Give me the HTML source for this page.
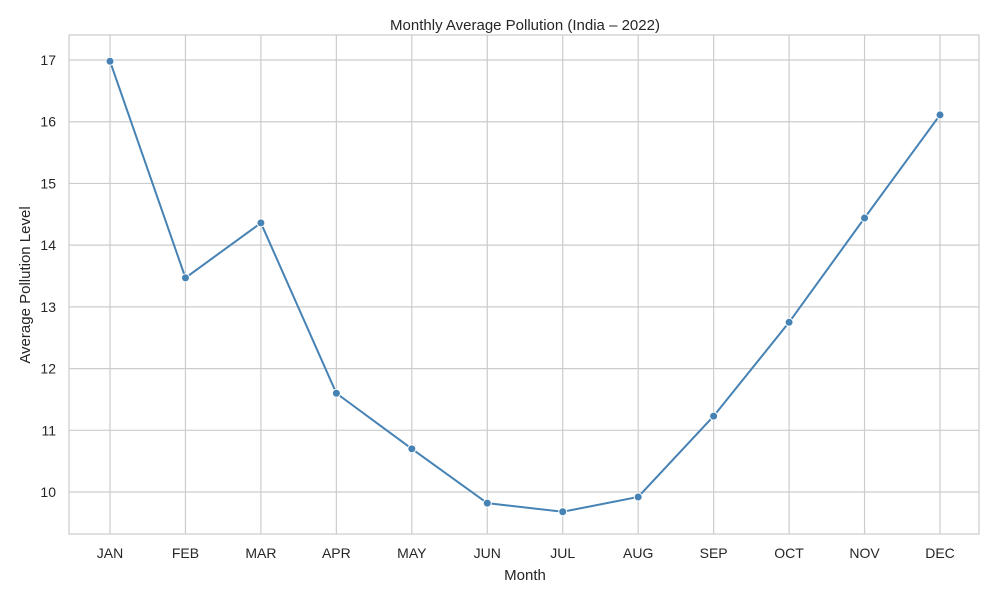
<!DOCTYPE html>
<html><head><meta charset="utf-8"><style>
body{margin:0;background:#fff;font-family:"Liberation Sans","DejaVu Sans",sans-serif;}
svg text{font-family:"Liberation Sans","DejaVu Sans",sans-serif;fill:#262626;}
</style></head><body>
<svg id="chart" width="1000" height="600">
<text x="525" y="30" text-anchor="middle" font-size="15">Monthly Average Pollution (India – 2022)</text>
<g id="grid"></g>
<rect x="69" y="35" width="910" height="499" fill="none" stroke="#cccccc" stroke-width="1.2"/>
<g id="axes"></g>
<g id="series"></g>
<text x="525" y="580" text-anchor="middle" font-size="15">Month</text>
<text transform="translate(30,285) rotate(-90)" text-anchor="middle" font-size="15">Average Pollution Level</text>
</svg>
<script>
const months=["JAN","FEB","MAR","APR","MAY","JUN","JUL","AUG","SEP","OCT","NOV","DEC"];
const pollution=[16.98,13.47,14.36,11.60,10.70,9.82,9.68,9.92,11.23,12.75,14.44,16.11];
const yTicks=[10,11,12,13,14,15,16,17];
const NS="http://www.w3.org/2000/svg";
const L=69,R=979,T=35,B=534;
const yMin=9.32,yMax=17.405;
function x(i){return 110+i*(940-110)/(months.length-1);}
function y(v){return B-(v-yMin)/(yMax-yMin)*(B-T);}
function mk(tag,attrs,parent){const e=document.createElementNS(NS,tag);for(const k in attrs)e.setAttribute(k,attrs[k]);parent.appendChild(e);return e;}
const grid=document.getElementById('grid'),axes=document.getElementById('axes'),ser=document.getElementById('series');
yTicks.forEach(t=>{
 const l=mk('line',{x1:L,x2:R,y1:y(t),y2:y(t),stroke:'#cccccc','stroke-width':1.2},grid);
 
 
 const tx=mk('text',{x:L-13,y:y(t)+5,'text-anchor':'end','font-size':14},axes);
 tx.textContent=t;
 
 
});
months.forEach((m,i)=>{
 const l=mk('line',{x1:x(i),x2:x(i),y1:T,y2:B,stroke:'#cccccc','stroke-width':1.2},grid);
 
 
 const tx=mk('text',{x:x(i),y:B+24,'text-anchor':'middle','font-size':14},axes);
 tx.textContent=m;
 
 
});
const pts=pollution.map((v,i)=>x(i)+','+y(v)).join(' ');
const line=mk('polyline',{points:pts,fill:'none',stroke:'#4682b4','stroke-width':2},ser);


pollution.forEach((v,i)=>{
 const c=mk('circle',{cx:x(i),cy:y(v),r:4,fill:'#4682b4',stroke:'#fff','stroke-width':1},ser);
 
 
});
</script>
</body></html>
